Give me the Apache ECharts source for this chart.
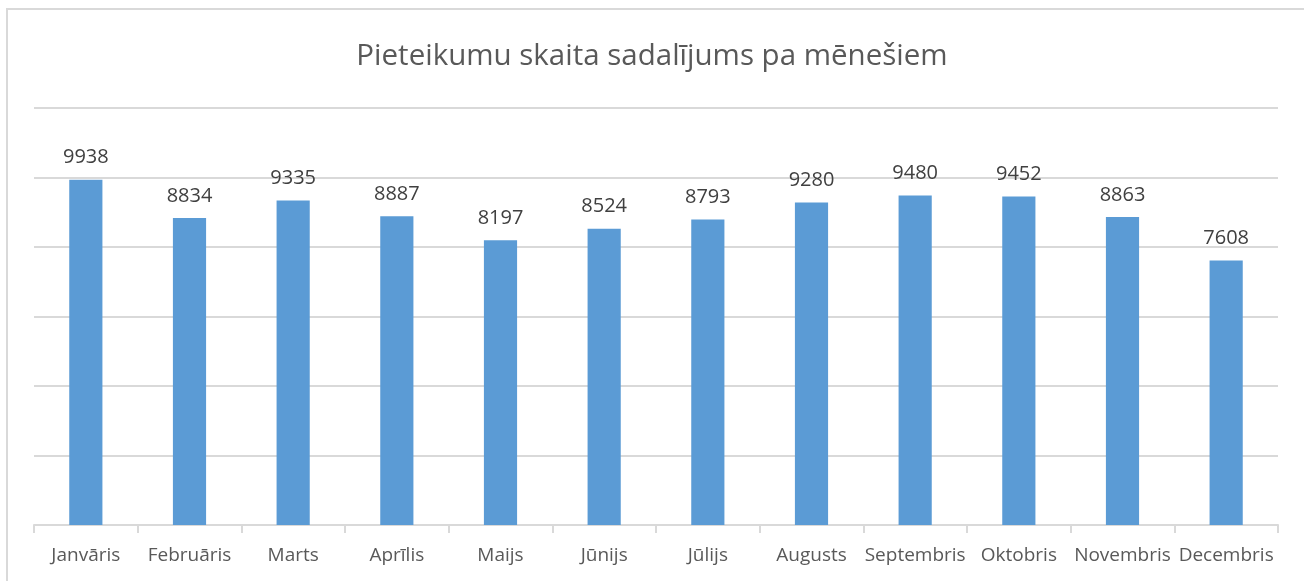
<!DOCTYPE html>
<html>
<head>
<meta charset="utf-8">
<script src="https://cdn.jsdelivr.net/npm/echarts@6/dist/echarts.min.js"></script>
<style>
  html, body { margin: 0; padding: 0; background: #fff; }
  #chart { width: 1304px; height: 581px; }
</style>
</head>
<body>
<div id="chart"></div>
<script>
const months = ['Janvāris', 'Februāris', 'Marts', 'Aprīlis', 'Maijs', 'Jūnijs', 'Jūlijs', 'Augusts', 'Septembris', 'Oktobris', 'Novembris', 'Decembris'];
const applications = [9938, 8834, 9335, 8887, 8197, 8524, 8793, 9280, 9480, 9452, 8863, 7608];

const chart = echarts.init(document.getElementById('chart'));
chart.setOption({
  animation: false,
  textStyle: { fontFamily: 'Open Sans' },
  title: {
    text: 'Pieteikumu skaita sadalījums pa mēnešiem',
    left: 'center',
    top: 37,
    textStyle: { fontSize: 29.5, fontWeight: 'normal', color: '#595959', fontFamily: 'Open Sans' }
  },
  graphic: [{
    type: 'rect',
    shape: { x: 7, y: 9, width: 1320, height: 600 },
    style: { fill: 'none', stroke: '#d9d9d9', lineWidth: 2 },
    silent: true
  }],
  grid: { left: 34, right: 26, top: 108, bottom: 56, containLabel: false },
  xAxis: {
    type: 'category',
    data: months,
    axisLine: { lineStyle: { color: '#d9d9d9', width: 2 } },
    axisTick: { show: true, length: 8, lineStyle: { color: '#d9d9d9', width: 2 } },
    axisLabel: { color: '#595959', fontSize: 19, margin: 21, interval: 0 }
  },
  yAxis: {
    type: 'value',
    min: 0,
    max: 12000,
    interval: 2000,
    axisLabel: { show: false },
    axisLine: { show: false },
    axisTick: { show: false },
    splitLine: { lineStyle: { color: '#d9d9d9', width: 2 } }
  },
  series: [{
    type: 'bar',
    data: applications,
    barWidth: '32%',
    itemStyle: { color: '#5b9bd5' },
    label: {
      show: true,
      position: 'top',
      distance: 12,
      color: '#404040',
      fontSize: 20
    }
  }]
});
</script>
</body>
</html>
